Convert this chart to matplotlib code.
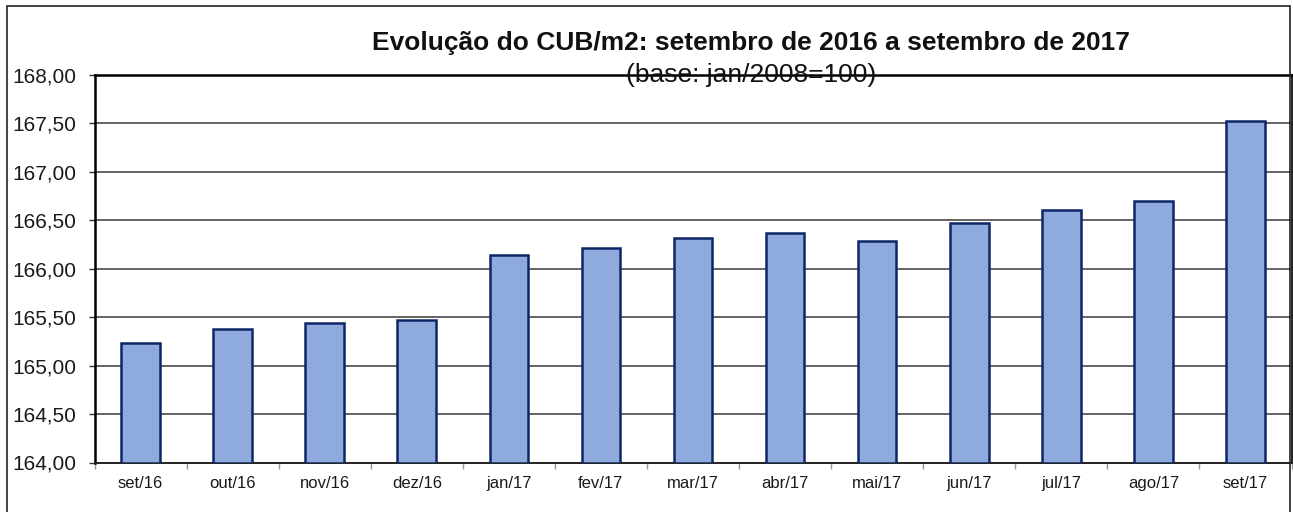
import numpy as np
import matplotlib.pyplot as plt
from matplotlib.patches import Rectangle
from matplotlib.ticker import FuncFormatter, FixedLocator

plt.rcParams['font.family'] = ['Liberation Sans', 'DejaVu Sans']

# ==============================================================================
# DATA
# ==============================================================================

months = ['set/16', 'out/16', 'nov/16', 'dez/16', 'jan/17', 'fev/17', 'mar/17',
          'abr/17', 'mai/17', 'jun/17', 'jul/17', 'ago/17', 'set/17']
cub = [165.23, 165.38, 165.44, 165.47, 166.14, 166.21, 166.32,
       166.37, 166.29, 166.47, 166.61, 166.70, 167.53]
y_ticks = [164.0, 164.5, 165.0, 165.5, 166.0, 166.5, 167.0, 167.5, 168.0]

title = 'Evolução do CUB/m2: setembro de 2016 a setembro de 2017'
subtitle = '(base: jan/2008=100)'

# ==============================================================================
# PLOT
# ==============================================================================

W, H = 1293, 512
fig = plt.figure(figsize=(W / 100, H / 100), dpi=100)
fig.patch.set_facecolor('white')

left, right, top, bottom = 94.5, 1291.5, 75.0, 462.5
ax = fig.add_axes([left / W, 1 - bottom / H, (right - left) / W, (bottom - top) / H])

x = np.arange(len(months))
ax.bar(x, np.array(cub) - 164.0, bottom=164.0, width=0.42,
       color='#8FAADC', edgecolor='#0E2568', linewidth=1.8, zorder=3)

ax.set_xlim(-0.5, len(months) - 0.5)
ax.set_ylim(164.0, 168.0)

ax.set_yticks(y_ticks)
ax.yaxis.set_major_formatter(FuncFormatter(lambda v, p: f'{v:.2f}'.replace('.', ',')))
ax.tick_params(axis='y', direction='out', length=4.5, width=1.0, color='#333333',
               pad=8.5, labelsize=15, labelcolor='#1a1a1a')
ax.yaxis.grid(True, color='#3a3a3a', linewidth=1.1, zorder=1)

ax.set_xticks(x)
ax.set_xticklabels(months)
ax.tick_params(axis='x', which='major', length=0, pad=10, labelsize=12,
               labelcolor='#1a1a1a')
ax.xaxis.set_minor_locator(FixedLocator(np.arange(-0.5, len(months), 1.0)))
ax.tick_params(axis='x', which='minor', direction='out', length=4, width=1.0,
               color='#999999')

for side in ['left', 'top']:
    ax.spines[side].set_linewidth(1.8)
    ax.spines[side].set_color('black')
ax.spines['bottom'].set_linewidth(1.4)
ax.spines['bottom'].set_color('#222222')
ax.spines['right'].set_linewidth(1.4)
ax.spines['right'].set_color('#222222')

# outer chart frame (cropped at right/bottom)
fig.patches.append(Rectangle((7 / W, -0.1), (1290 - 7) / W, 1.1 - 5.5 / H,
                             transform=fig.transFigure, fill=False,
                             edgecolor='#222222', linewidth=1.2, zorder=0))

fig.text(751 / W, 1 - 43 / H, title, ha='center', va='center',
         fontsize=19, fontweight='bold', color='#111111')
fig.text(751 / W, 1 - 75 / H, subtitle, ha='center', va='center',
         fontsize=19, color='#111111')

plt.savefig('out.png', dpi=100)
plt.close()
